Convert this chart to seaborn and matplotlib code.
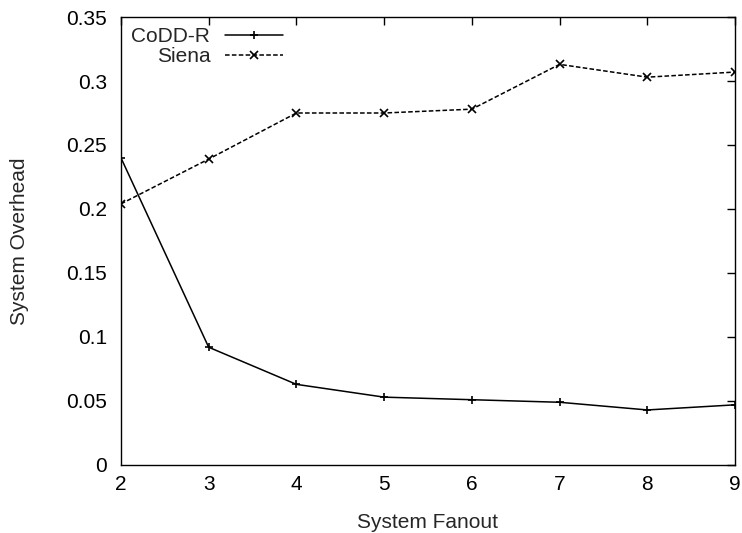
import pandas as pd
import matplotlib.pyplot as plt
import seaborn as sns

fanout = [2, 3, 4, 5, 6, 7, 8, 9]
codd_r = [0.240, 0.092, 0.063, 0.053, 0.051, 0.049, 0.043, 0.047]
siena = [0.204, 0.239, 0.275, 0.275, 0.278, 0.313, 0.303, 0.307]

df = pd.concat([
    pd.DataFrame({'fanout': fanout, 'overhead': codd_r, 'series': 'CoDD-R'}),
    pd.DataFrame({'fanout': fanout, 'overhead': siena, 'series': 'Siena'}),
])

sns.set_style('white')
plt.rcParams['font.family'] = ['Liberation Sans', 'DejaVu Sans']
fs = 15

fig = plt.figure(figsize=(7.42, 5.33), dpi=100)
ax = fig.add_axes([0.163, 0.1276, 0.8276, 0.8405])

sns.lineplot(data=df, x='fanout', y='overhead', style='series',
             markers={'CoDD-R': '+', 'Siena': 'x'},
             dashes={'CoDD-R': '', 'Siena': (3, 1.5)},
             color='black', linewidth=1.1, markersize=6,
             markeredgewidth=1.2, markeredgecolor='black', ax=ax)

ax.set_xlim(2, 9)
ax.set_ylim(0, 0.35)
ax.set_xticks(fanout)
yt = [0, 0.05, 0.1, 0.15, 0.2, 0.25, 0.3, 0.35]
ax.set_yticks(yt)
ax.set_yticklabels(['0', '0.05', '0.1', '0.15', '0.2', '0.25', '0.3', '0.35'])
ax.tick_params(direction='in', length=6, width=1, top=True, right=True,
               labelsize=fs, colors='black')
ax.tick_params(axis='y', pad=10)
ax.tick_params(axis='x', pad=7)
for s in ax.spines.values():
    s.set_color('black')
    s.set_linewidth(1)

ax.set_xlabel('System Fanout', fontsize=fs, labelpad=14)
ax.set_ylabel('System Overhead', fontsize=fs, labelpad=27)

leg = ax.legend(loc='upper left', frameon=False, markerfirst=False,
                handlelength=2.75, handletextpad=0.72, labelspacing=0.05,
                borderaxespad=0.3, borderpad=0.2, fontsize=fs)
for col in leg._legend_handle_box.get_children():
    col.align = 'right'
for h in leg.legend_handles:
    h.set_markeredgecolor('black')

fig.savefig('out.png', dpi=100)
